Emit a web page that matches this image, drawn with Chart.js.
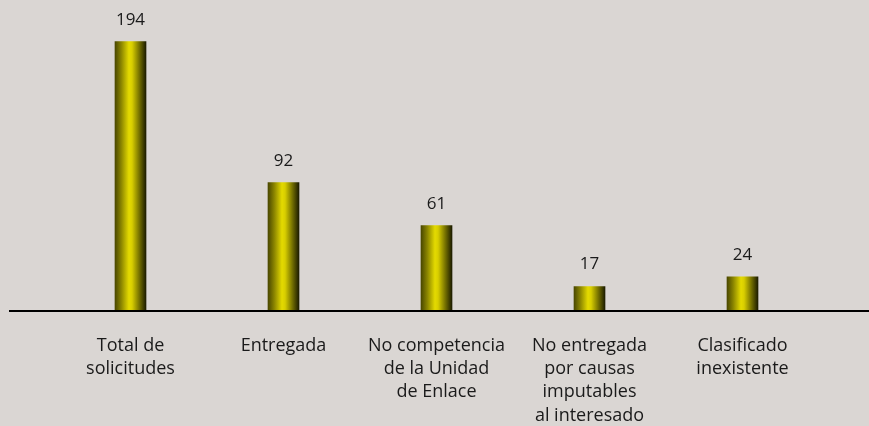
<!DOCTYPE html>
<html lang="es">
<head>
<meta charset="utf-8">
<script src="https://cdn.jsdelivr.net/npm/chart.js@4"></script>
<style>
  html, body { margin: 0; padding: 0; background: #dad6d3; }
  #wrap { width: 869px; height: 426px; position: relative; }
</style>
</head>
<body>
<div id="wrap"><canvas id="solicitudesChart"></canvas></div>
<script>
const categories = [
    ['Total de', 'solicitudes'],
    ['Entregada'],
    ['No competencia', 'de la Unidad', 'de Enlace'],
    ['No entregada', 'por causas', 'imputables', 'al interesado'],
    ['Clasificado', 'inexistente']
];
const values = [194, 92, 61, 17, 24];

const textColor = '#1a1a1a';
const fontFamily = '"Open Sans", "Noto Sans", sans-serif';

// olive-to-yellow cylinder shading across each bar
function barGradient(context) {
    const chart = context.chart;
    if (!chart.chartArea || !chart.scales.x) return '#c8bc00';
    const x = chart.scales.x.getPixelForValue(context.dataIndex);
    const half = 15.5;
    const g = chart.ctx.createLinearGradient(x - half, 0, x + half, 0);
    g.addColorStop(0, '#4a4800');
    g.addColorStop(0.2, '#8a8400');
    g.addColorStop(0.45, '#e4da00');
    g.addColorStop(0.55, '#d8ce00');
    g.addColorStop(0.8, '#6e6a00');
    g.addColorStop(1, '#1c1c00');
    return g;
}

// long black baseline and value labels over the bars
const decorations = {
    id: 'decorations',
    beforeDatasetsDraw(chart) {
        const ctx = chart.ctx;
        const y0 = Math.round(chart.scales.y.getPixelForValue(0));
        ctx.save();
        ctx.fillStyle = '#000';
        ctx.fillRect(9, y0, chart.width - 9, 2);
        ctx.restore();
    },
    afterDatasetsDraw(chart) {
        const ctx = chart.ctx;
        const meta = chart.getDatasetMeta(0);
        ctx.save();
        ctx.fillStyle = textColor;
        ctx.font = '17px ' + fontFamily;
        ctx.textAlign = 'center';
        ctx.textBaseline = 'alphabetic';
        meta.data.forEach((bar, i) => {
            ctx.fillText(String(values[i]), bar.x, bar.y - 17);
        });
        ctx.restore();
    }
};

new Chart(document.getElementById('solicitudesChart'), {
    type: 'bar',
    data: {
        labels: categories,
        datasets: [{
            data: values,
            backgroundColor: barGradient,
            borderWidth: 0,
            barThickness: 31
        }]
    },
    options: {
        responsive: true,
        maintainAspectRatio: false,
        animation: false,
        layout: { padding: { left: 54, right: 50, top: 0, bottom: 0 } },
        plugins: {
            legend: { display: false },
            tooltip: { enabled: false }
        },
        scales: {
            x: {
                grid: { display: false, drawTicks: false },
                border: { display: false },
                ticks: {
                    color: textColor,
                    font: { family: fontFamily, size: 18, lineHeight: '23.3px' },
                    padding: 24,
                    maxRotation: 0,
                    autoSkip: false
                },
                afterFit(scale) {
                    scale.height = 116;
                }
            },
            y: {
                display: false,
                min: 0,
                max: 224
            }
        }
    },
    plugins: [decorations]
});
</script>
</body>
</html>
